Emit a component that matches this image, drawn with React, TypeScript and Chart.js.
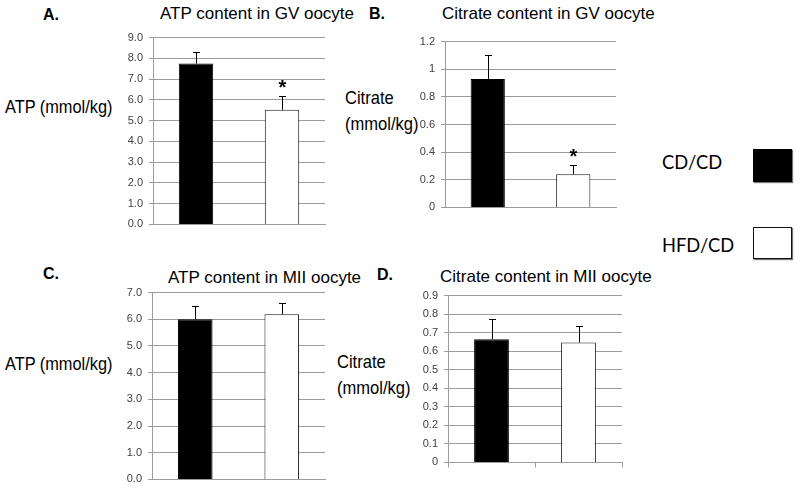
import React, { useEffect, useRef } from "react";
import { Chart, registerables } from "chart.js";

Chart.register(...registerables);

// ---------- data ----------
const groups = ["CD/CD", "HFD/CD"];

const atpGV = [7.75, 5.52];
const atpGVErr = [0.58, 0.68];
const atpGVSig = [false, true];

const citrateGV = [0.93, 0.24];
const citrateGVErr = [0.17, 0.065];
const citrateGVSig = [false, true];

const atpMII = [6.0, 6.19];
const atpMIIErr = [0.49, 0.42];
const atpMIISig = [false, false];

const citrateMII = [0.665, 0.647];
const citrateMIIErr = [0.11, 0.09];
const citrateMIISig = [false, false];

const atpTicks = { max: 9, step: 1 };
const citrateGVTicks = { max: 1.2, step: 0.2 };
const atpMIITicks = { max: 7, step: 1 };
const citrateMIITicks = { max: 0.9, step: 0.1 };

const barColors = ["#000000", "#ffffff"];

// ---------- layout (positions/styles) ----------
const GRID = "#9c9c9c";
const FONT = '"Liberation Sans", Arial, sans-serif';

type PanelProps = {
  values: number[];
  errs: number[];
  sig: boolean[];
  max: number;
  step: number;
  fixed1: boolean;
  axisX: number;
  right: number;
  top: number;
  bottom: number;
  xTicks: boolean;
};

const errorBarPlugin = {
  id: "errbars",
  afterDatasetsDraw(chart: any, _args: any, opts: any) {
    const { ctx } = chart;
    const meta = chart.getDatasetMeta(0);
    const ys = chart.scales.y;
    const vals = chart.data.datasets[0].data as number[];
    ctx.save();
    meta.data.forEach((bar: any, i: number) => {
      const x = Math.round(bar.x) + 0.5;
      const yTop = Math.round(ys.getPixelForValue(vals[i] + opts.errs[i])) + 0.5;
      ctx.strokeStyle = "#000";
      ctx.lineWidth = 1;
      ctx.beginPath();
      ctx.moveTo(x, bar.y);
      ctx.lineTo(x, yTop);
      ctx.moveTo(x - 3.5, yTop);
      ctx.lineTo(x + 3.5, yTop);
      ctx.stroke();
      if (opts.sig[i]) {
        ctx.fillStyle = "#000";
        ctx.font = `bold 20px ${FONT}`;
        ctx.textAlign = "center";
        ctx.textBaseline = "alphabetic";
        ctx.fillText("*", x, yTop - 14 + 0.57 * 20);
      }
    });
    ctx.restore();
  },
};

function Panel(p: PanelProps) {
  const ref = useRef<HTMLCanvasElement>(null);
  const YW = 50;
  const PT = 10;
  const XH = 10;
  const PR = 4;
  const width = p.right - p.axisX + YW + PR;
  const height = p.bottom - p.top + PT + XH;

  useEffect(() => {
    if (!ref.current) return;
    const chart = new Chart(ref.current, {
      type: "bar",
      data: {
        labels: groups,
        datasets: [
          {
            data: p.values,
            backgroundColor: barColors,
            borderColor: ["#000000", "#1a1a1a"],
            borderWidth: 1,
            barPercentage: 0.4,
            categoryPercentage: 1,
          },
        ],
      },
      options: {
        responsive: false,
        animation: false,
        devicePixelRatio: 1,
        layout: { padding: { top: PT, right: PR, left: 0, bottom: 0 } },
        plugins: {
          legend: { display: false },
          tooltip: { enabled: false },
          title: { display: false },
          errbars: { errs: p.errs, sig: p.sig },
        } as any,
        scales: {
          x: {
            ticks: { display: false },
            grid: {
              display: p.xTicks,
              drawOnChartArea: false,
              drawTicks: true,
              tickLength: 5,
              color: GRID,
              offset: true,
            },
            border: { display: true, color: GRID },
            afterFit: (s: any) => {
              s.height = XH;
            },
          },
          y: {
            min: 0,
            max: p.max,
            ticks: {
              stepSize: p.step,
              color: "#404040",
              padding: 6,
              font: { family: FONT, size: 11 },
              callback: (v: any) =>
                p.fixed1 ? Number(v).toFixed(1) : String(Number(Number(v).toFixed(2))),
            },
            grid: { color: GRID, tickLength: 4, drawTicks: true },
            border: { display: true, color: GRID },
            afterFit: (s: any) => {
              s.width = YW;
            },
          },
        },
      },
      plugins: [errorBarPlugin],
    });
    return () => chart.destroy();
  }, []);

  return (
    <canvas
      ref={ref}
      width={width}
      height={height}
      style={{
        position: "absolute",
        left: p.axisX - YW,
        top: p.top - PT,
        width,
        height,
      }}
    />
  );
}

function Txt({
  x,
  base,
  size,
  children,
  bold,
  sx,
  family,
}: {
  x: number;
  base: number;
  size: number;
  children: any;
  bold?: boolean;
  sx?: number;
  family?: string;
}) {
  return (
    <div
      style={{
        position: "absolute",
        left: x,
        top: base - 0.8465 * size,
        fontSize: size,
        lineHeight: `${size}px`,
        fontFamily: family || FONT,
        fontWeight: bold ? "bold" : "normal",
        whiteSpace: "nowrap",
        color: "#000",
        transform: sx ? `scaleX(${sx})` : undefined,
        transformOrigin: "left center",
      }}
    >
      {children}
    </div>
  );
}

const LEGEND_FONT = 'Lato, "Open Sans", sans-serif';

export default function App() {
  return (
    <div
      style={{
        position: "absolute",
        left: 0,
        top: 0,
        width: 800,
        height: 491,
        background: "#fff",
        overflow: "hidden",
        fontFamily: FONT,
      }}
    >
      {/* Panel A */}
      <Txt x={43} base={20.5} size={16} bold>A.</Txt>
      <Txt x={160} base={19.3} size={17}>ATP content in GV oocyte</Txt>
      <Txt x={5} base={112.7} size={19} sx={0.86}>ATP (mmol/kg)</Txt>
      <Panel
        values={atpGV}
        errs={atpGVErr}
        sig={atpGVSig}
        max={atpTicks.max}
        step={atpTicks.step}
        fixed1
        axisX={153}
        right={325}
        top={35}
        bottom={227}
        xTicks={false}
      />

      {/* Panel B */}
      <Txt x={369} base={19.5} size={16} bold>B.</Txt>
      <Txt x={442} base={19.3} size={17}>Citrate content in GV oocyte</Txt>
      <Txt x={345} base={104} size={19} sx={0.87}>Citrate</Txt>
      <Txt x={345} base={130} size={19} sx={0.87}>(mmol/kg)</Txt>
      <Panel
        values={citrateGV}
        errs={citrateGVErr}
        sig={citrateGVSig}
        max={citrateGVTicks.max}
        step={citrateGVTicks.step}
        fixed1={false}
        axisX={445}
        right={616}
        top={39}
        bottom={210}
        xTicks={false}
      />

      {/* Panel C */}
      <Txt x={43} base={280} size={16} bold>C.</Txt>
      <Txt x={168} base={283} size={17}>ATP content in MII oocyte</Txt>
      <Txt x={5} base={370} size={19} sx={0.86}>ATP (mmol/kg)</Txt>
      <Panel
        values={atpMII}
        errs={atpMIIErr}
        sig={atpMIISig}
        max={atpMIITicks.max}
        step={atpMIITicks.step}
        fixed1
        axisX={152}
        right={325}
        top={290}
        bottom={482}
        xTicks={false}
      />

      {/* Panel D */}
      <Txt x={377} base={280.7} size={16} bold>D.</Txt>
      <Txt x={440} base={282.5} size={17}>Citrate content in MII oocyte</Txt>
      <Txt x={337} base={368.3} size={19} sx={0.87}>Citrate</Txt>
      <Txt x={337} base={394.5} size={19} sx={0.87}>(mmol/kg)</Txt>
      <Panel
        values={citrateMII}
        errs={citrateMIIErr}
        sig={citrateMIISig}
        max={citrateMIITicks.max}
        step={citrateMIITicks.step}
        fixed1={false}
        axisX={448}
        right={622}
        top={293}
        bottom={465}
        xTicks={true}
      />

      {/* Legend */}
      <Txt x={662} base={168.3} size={18.3} family={LEGEND_FONT}>
        {groups[0]}
      </Txt>
      <div
        style={{
          position: "absolute",
          left: 753,
          top: 149,
          width: 39,
          height: 33,
          background: barColors[0],
          boxShadow: "1px 1px 1px #777",
        }}
      />
      <Txt x={662} base={251.7} size={18.3} family={LEGEND_FONT}>
        {groups[1]}
      </Txt>
      <div
        style={{
          position: "absolute",
          left: 753,
          top: 227,
          width: 37,
          height: 30,
          background: barColors[1],
          border: "1px solid #111",
          boxShadow: "1px 1px 1px #777",
        }}
      />
    </div>
  );
}
